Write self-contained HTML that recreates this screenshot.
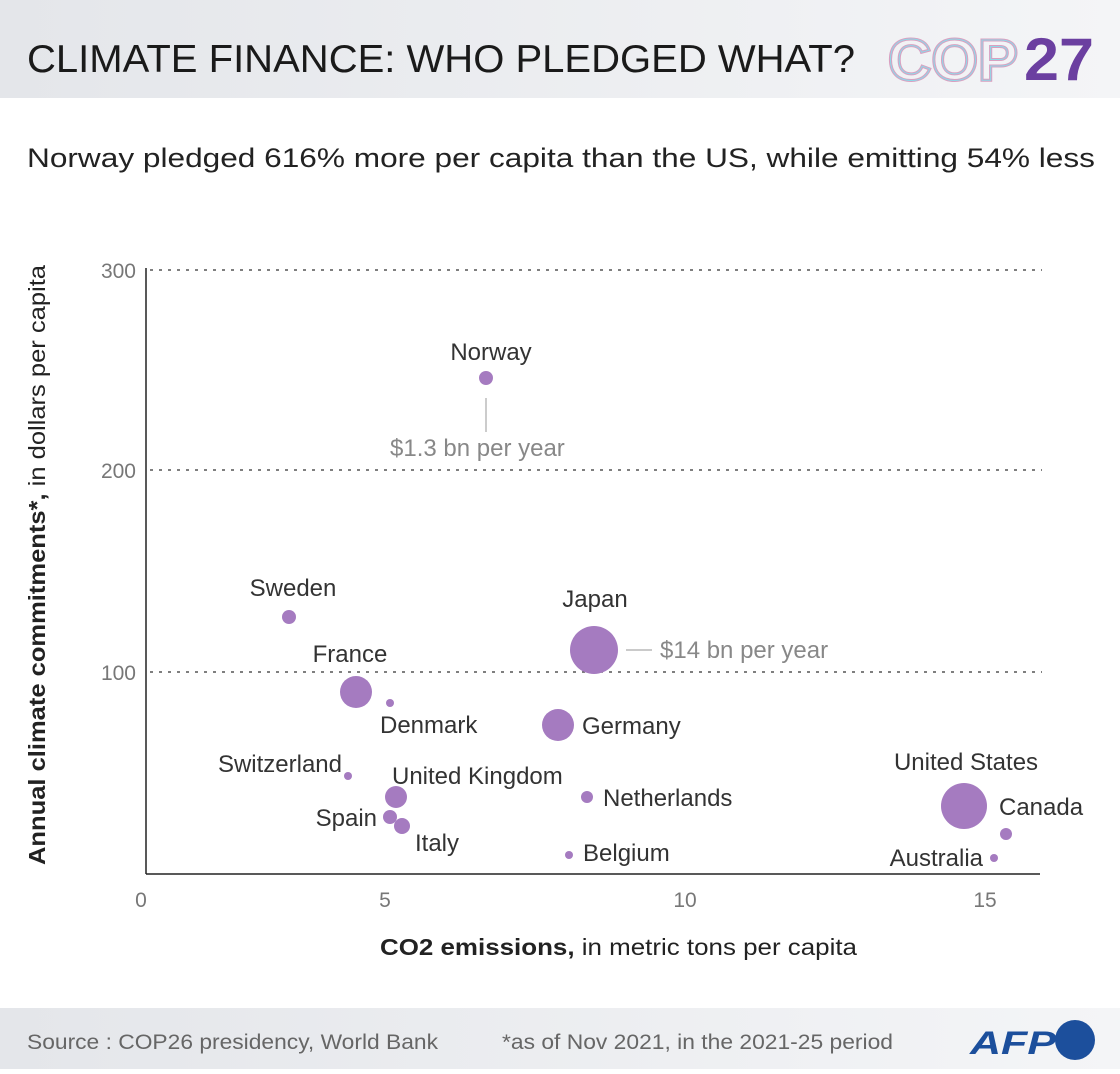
<!DOCTYPE html>
<html><head><meta charset="utf-8"><style>
body{margin:0;width:1120px;height:1069px;background:#fff;font-family:"Liberation Sans",sans-serif;overflow:hidden}
</style></head><body>
<svg width="1120" height="1069" viewBox="0 0 1120 1069" xmlns="http://www.w3.org/2000/svg" font-family="Liberation Sans, sans-serif">
<defs><linearGradient id="g" x1="0" x2="1"><stop offset="0" stop-color="#e4e6ea"/><stop offset="1" stop-color="#f4f5f7"/></linearGradient></defs>
<rect x="0" y="0" width="1120" height="98" fill="url(#g)"/>
<text x="27" y="72" font-size="39" fill="#1a1a1a" textLength="828" lengthAdjust="spacingAndGlyphs">CLIMATE FINANCE: WHO PLEDGED WHAT?</text>
<text x="888" y="80" font-size="58" font-weight="bold" fill="none" stroke="#d9a0c0" stroke-width="3" textLength="130" lengthAdjust="spacingAndGlyphs">COP</text>
<text x="888" y="80" font-size="58" font-weight="bold" fill="none" stroke="#8fd8e8" stroke-width="1" textLength="130" lengthAdjust="spacingAndGlyphs">COP</text>
<text x="1024" y="80" font-size="60" font-weight="bold" fill="#6b3fa0" textLength="70" lengthAdjust="spacingAndGlyphs">27</text>
<text x="27" y="167" font-size="27" fill="#222" textLength="1068" lengthAdjust="spacingAndGlyphs">Norway pledged 616% more per capita than the US, while emitting 54% less</text>
<g stroke="#555" stroke-width="1.5" stroke-dasharray="3,6">
<line x1="150" y1="270" x2="1042" y2="270"/><line x1="150" y1="470" x2="1042" y2="470"/><line x1="150" y1="672" x2="1042" y2="672"/></g>
<line x1="146" y1="268" x2="146" y2="874" stroke="#222" stroke-width="1.5"/>
<line x1="146" y1="874" x2="1040" y2="874" stroke="#222" stroke-width="1.5"/>
<g font-size="21" fill="#777" text-anchor="end"><text x="136" y="278">300</text><text x="136" y="478">200</text><text x="136" y="680">100</text></g>
<g font-size="21" fill="#777" text-anchor="middle"><text x="141" y="907">0</text><text x="385" y="907">5</text><text x="685" y="907">10</text><text x="985" y="907">15</text></g>
<text x="380" y="955" font-size="23" fill="#222" textLength="477" lengthAdjust="spacingAndGlyphs"><tspan font-weight="bold">CO2 emissions,</tspan> in metric tons per capita</text>
<text transform="translate(45,865) rotate(-90)" font-size="23" fill="#222" textLength="600" lengthAdjust="spacingAndGlyphs"><tspan font-weight="bold">Annual climate commitments*,</tspan> in dollars per capita</text>
<g fill="#a57bc0">
<circle cx="486" cy="378" r="7"/><circle cx="289" cy="617" r="7"/><circle cx="594" cy="650" r="24"/><circle cx="356" cy="692" r="16"/><circle cx="390" cy="703" r="4"/><circle cx="558" cy="725" r="16"/><circle cx="348" cy="776" r="4"/><circle cx="396" cy="797" r="11"/><circle cx="390" cy="817" r="7"/><circle cx="402" cy="826" r="8"/><circle cx="587" cy="797" r="6"/><circle cx="569" cy="855" r="4"/><circle cx="964" cy="806" r="23"/><circle cx="1006" cy="834" r="6"/><circle cx="994" cy="858" r="4"/>
</g>
<line x1="486" y1="398" x2="486" y2="432" stroke="#aaa" stroke-width="1.2"/>
<line x1="626" y1="650" x2="652" y2="650" stroke="#aaa" stroke-width="1.2"/>
<g font-size="24" fill="#333">
<text x="491" y="360" text-anchor="middle">Norway</text>
<text x="293" y="596" text-anchor="middle">Sweden</text>
<text x="595" y="607" text-anchor="middle">Japan</text>
<text x="350" y="662" text-anchor="middle">France</text>
<text x="380" y="733">Denmark</text>
<text x="582" y="734">Germany</text>
<text x="342" y="772" text-anchor="end">Switzerland</text>
<text x="392" y="784">United Kingdom</text>
<text x="377" y="826" text-anchor="end">Spain</text>
<text x="415" y="851">Italy</text>
<text x="603" y="806">Netherlands</text>
<text x="583" y="861">Belgium</text>
<text x="966" y="770" text-anchor="middle">United States</text>
<text x="999" y="815">Canada</text>
<text x="983" y="866" text-anchor="end">Australia</text>
</g>
<g font-size="24" fill="#888"><text x="390" y="456">$1.3 bn per year</text><text x="660" y="658">$14 bn per year</text></g>
<rect x="0" y="1008" width="1120" height="61" fill="url(#g)"/>
<text x="27" y="1049" font-size="21" fill="#666" textLength="411" lengthAdjust="spacingAndGlyphs">Source : COP26 presidency, World Bank</text>
<text x="502" y="1049" font-size="21" fill="#666" textLength="391" lengthAdjust="spacingAndGlyphs">*as of Nov 2021, in the 2021-25 period</text>
<text x="970" y="1054" font-size="32" font-weight="bold" font-style="italic" fill="#1c4f9c" textLength="86" lengthAdjust="spacingAndGlyphs">AFP</text>
<circle cx="1075" cy="1040" r="20" fill="#1c4f9c"/>
</svg>
</body></html>
